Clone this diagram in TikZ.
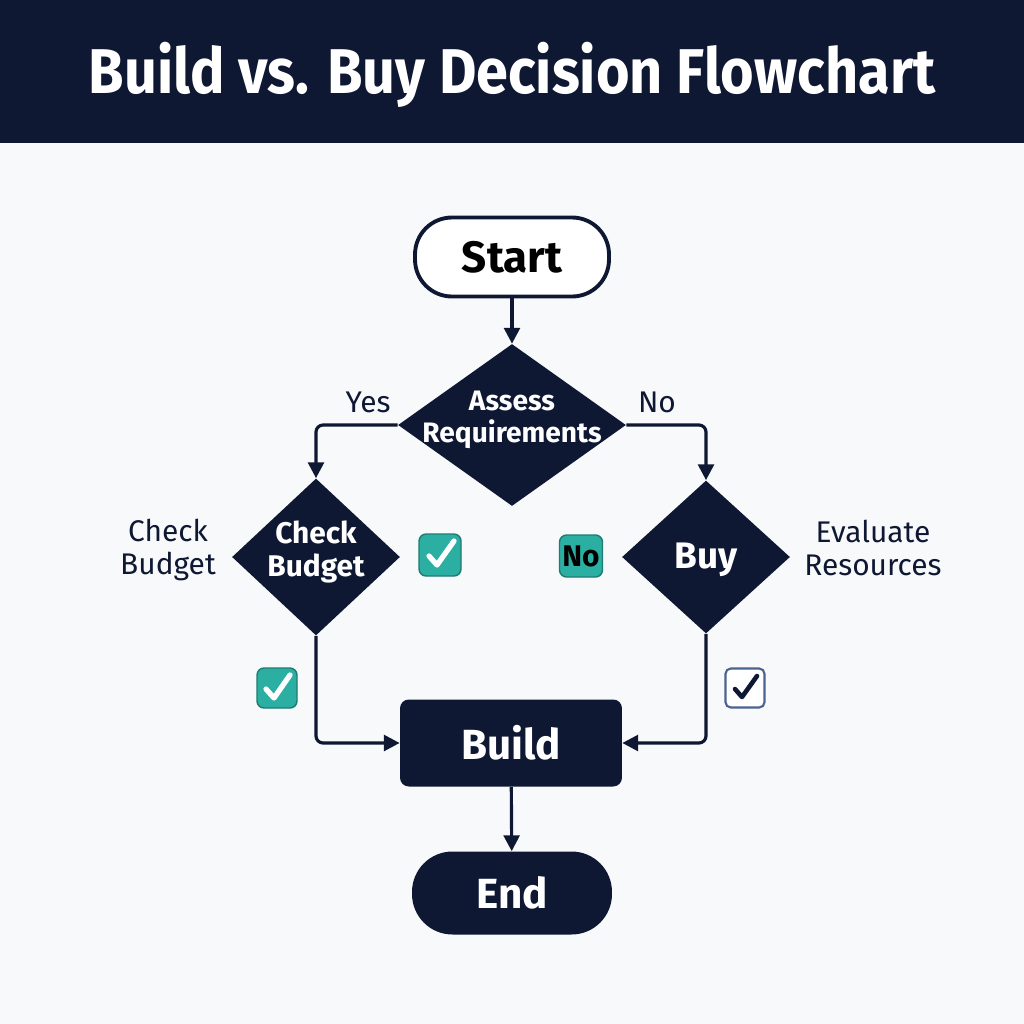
\documentclass[tikz,border=0pt]{standalone}
\usepackage{fontspec}
\setmainfont{Fira Sans}
\usetikzlibrary{shapes.geometric,arrows.meta,calc}
\definecolor{navy}{HTML}{0F1833}
\definecolor{teal}{HTML}{2BAFA2}
\definecolor{slate}{HTML}{4A6390}
\definecolor{bg}{HTML}{F8F9FA}
\tikzset{
  px/.style={x=0.02cm,y=-0.02cm},
  conn/.style={draw=navy,line width=1.8pt,rounded corners=4pt},
  arr/.style={conn,-{Triangle[length=9pt,width=9pt]}},
  dia/.style={diamond,fill=navy,inner sep=0pt},
  diatext/.style={text=white,font=\bfseries\fontsize{16}{18}\selectfont,align=center,inner sep=0pt},
  lab/.style={text=navy,font=\fontsize{17}{19}\selectfont,align=center},
}
\begin{document}
\begin{tikzpicture}[px]
\useasboundingbox (0,0) rectangle (1024,1024);
\fill[bg] (0,0) rectangle (1024,1024);
\fill[navy] (0,0) rectangle (1024,143);
\node[text=white,font=\bfseries\fontsize{36}{40}\selectfont,xscale=0.91] (title) at (512,75) {Build vs. Buy Decision Flowchart};
% nodes
\node[draw=navy,fill=white,line width=2.2pt,rounded corners=21pt,minimum width=3.88cm,minimum height=1.58cm,font=\bfseries\fontsize{25}{28}\selectfont,text=black] (start) at (512,257) {Start};
\node[dia,minimum width=4.56cm,minimum height=3.24cm] (assess) at (512,425) {};
\node[diatext] (assesst) at (512,420) {Assess\\Requirements};
\node[dia,minimum width=3.36cm,minimum height=3.14cm] (check) at (316,557) {};
\node[diatext,font=\bfseries\fontsize{17}{19}\selectfont] (checkt) at (316,552) {Check\\Budget};
\node[dia,minimum width=3.36cm,minimum height=3.06cm] (buy) at (706,557) {};
\node[diatext,font=\bfseries\fontsize{21}{24}\selectfont] (buyt) at (706,560) {Buy};
\node[fill=navy,rounded corners=5pt,minimum width=4.44cm,minimum height=1.74cm,text=white,font=\bfseries\fontsize{24}{27}\selectfont] (build) at (511,743) {Build};
\node[fill=navy,rounded corners=23pt,minimum width=4.0cm,minimum height=1.66cm,text=white,font=\bfseries\fontsize{24}{27}\selectfont] (end) at (512,893) {End};
% labels
\node[lab] (yes) at (368,402) {Yes};
\node[lab] (no1) at (657,402) {No};
\node[lab] (cbl) at (168,550) {Check\\Budget};
\node[lab] (evr) at (873,548) {Evaluate\\Resources};
% teal No box
\node[fill=teal,draw=teal!70!black,line width=0.8pt,rounded corners=4pt,minimum width=0.86cm,minimum height=0.84cm,inner sep=0pt,font=\bfseries\fontsize{17}{19}\selectfont,text=black] (nobox) at (581,556) {No};
% checkboxes
\node[fill=teal,draw=teal!70!black,line width=0.8pt,rounded corners=4pt,minimum width=0.84cm,minimum height=0.84cm,inner sep=0pt] (ck1) at (440,555) {};
\draw[white,line width=3pt,line cap=round,line join=round] ($(ck1.center)+(-11,1)$) -- ($(ck1.center)+(-3,10)$) -- ($(ck1.center)+(14,-14)$);
\node[fill=teal,draw=teal!70!black,line width=0.8pt,rounded corners=4pt,minimum width=0.8cm,minimum height=0.8cm,inner sep=0pt] (ck2) at (277,688) {};
\draw[white,line width=3pt,line cap=round,line join=round] ($(ck2.center)+(-11,1)$) -- ($(ck2.center)+(-3,10)$) -- ($(ck2.center)+(13,-13)$);
\node[fill=white,draw=slate,line width=1.2pt,rounded corners=3pt,minimum width=0.78cm,minimum height=0.78cm,inner sep=0pt] (ck3) at (745,688) {};
\draw[navy,line width=2.6pt,line cap=round,line join=round] ($(ck3.center)+(-10,1)$) -- ($(ck3.center)+(-3,9)$) -- ($(ck3.center)+(12,-12)$);
% connectors
\draw[arr] (start) -- (assess.north);
\draw[arr] (assess.west) -| (check.north);
\draw[arr] (assess.east) -| (buy.north);
\draw[arr] (check.south) |- (build.west);
\draw[arr] (buy.south) |- (build.east);
\draw[arr] (build) -- (end);
\end{tikzpicture}
\end{document}
